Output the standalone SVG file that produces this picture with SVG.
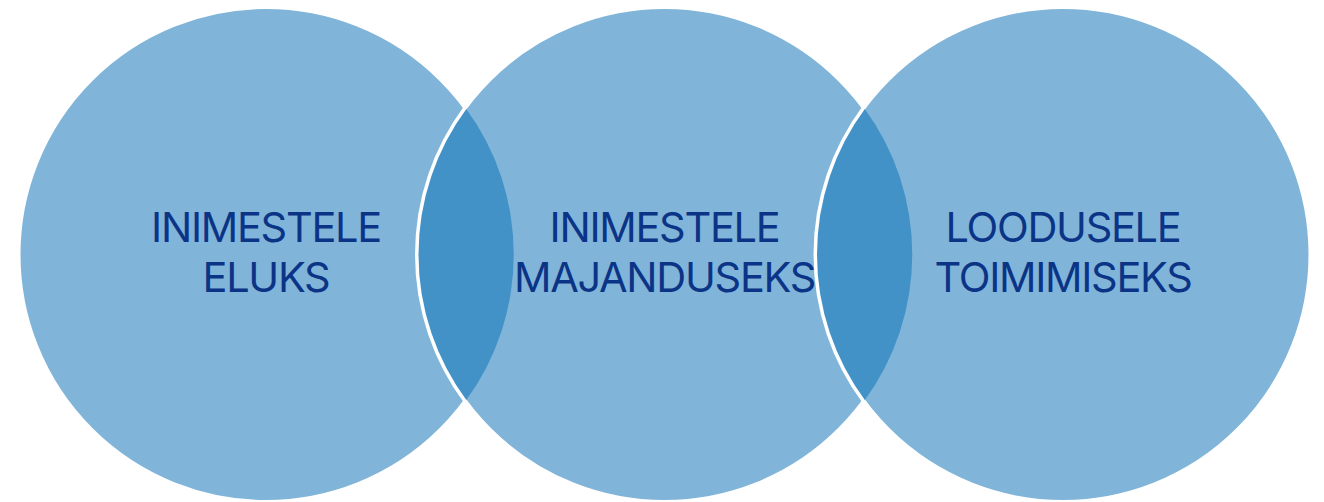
<svg xmlns="http://www.w3.org/2000/svg" width="1324" height="502" viewBox="0 0 1324 502">
<style>
.c{fill:#80B5D9;stroke:#fff;stroke-width:3}
.lens{fill:#4392C7}
.edge{fill:none;stroke:#fff;stroke-width:3.5}
.t{font-family:Inter,"Liberation Sans",sans-serif;font-size:41.5px;letter-spacing:-1.3px;fill:#0B3487;text-anchor:middle}
</style>
<rect width="1324" height="502" fill="#fff"/>
<g id="circle-left"><circle class="c" cx="266" cy="254.5" r="247"/></g>
<g id="circle-middle"><circle class="c" cx="664.5" cy="254.5" r="247"/></g>
<g id="circle-right"><circle class="c" cx="1063" cy="254.5" r="247"/></g>
<g id="lens-left">
<path class="lens" d="M465.25,107.5 A247,247 0 0 1 465.25,401.5 A247,247 0 0 1 465.25,107.5 Z"/>
<path class="edge" d="M465.25,107.5 A247,247 0 0 0 465.25,401.5"/>
</g>
<g id="lens-right">
<path class="lens" d="M863.75,107.5 A247,247 0 0 1 863.75,401.5 A247,247 0 0 1 863.75,107.5 Z"/>
<path class="edge" d="M863.75,107.5 A247,247 0 0 0 863.75,401.5"/>
</g>
<g id="label-left"><text class="t" x="266" y="242">INIMESTELE</text><text class="t" x="266" y="292">ELUKS</text></g>
<g id="label-middle"><text class="t" x="664.5" y="242">INIMESTELE</text><text class="t" x="664.5" y="292">MAJANDUSEKS</text></g>
<g id="label-right"><text class="t" x="1063" y="242">LOODUSELE</text><text class="t" x="1063" y="292">TOIMIMISEKS</text></g>
</svg>
